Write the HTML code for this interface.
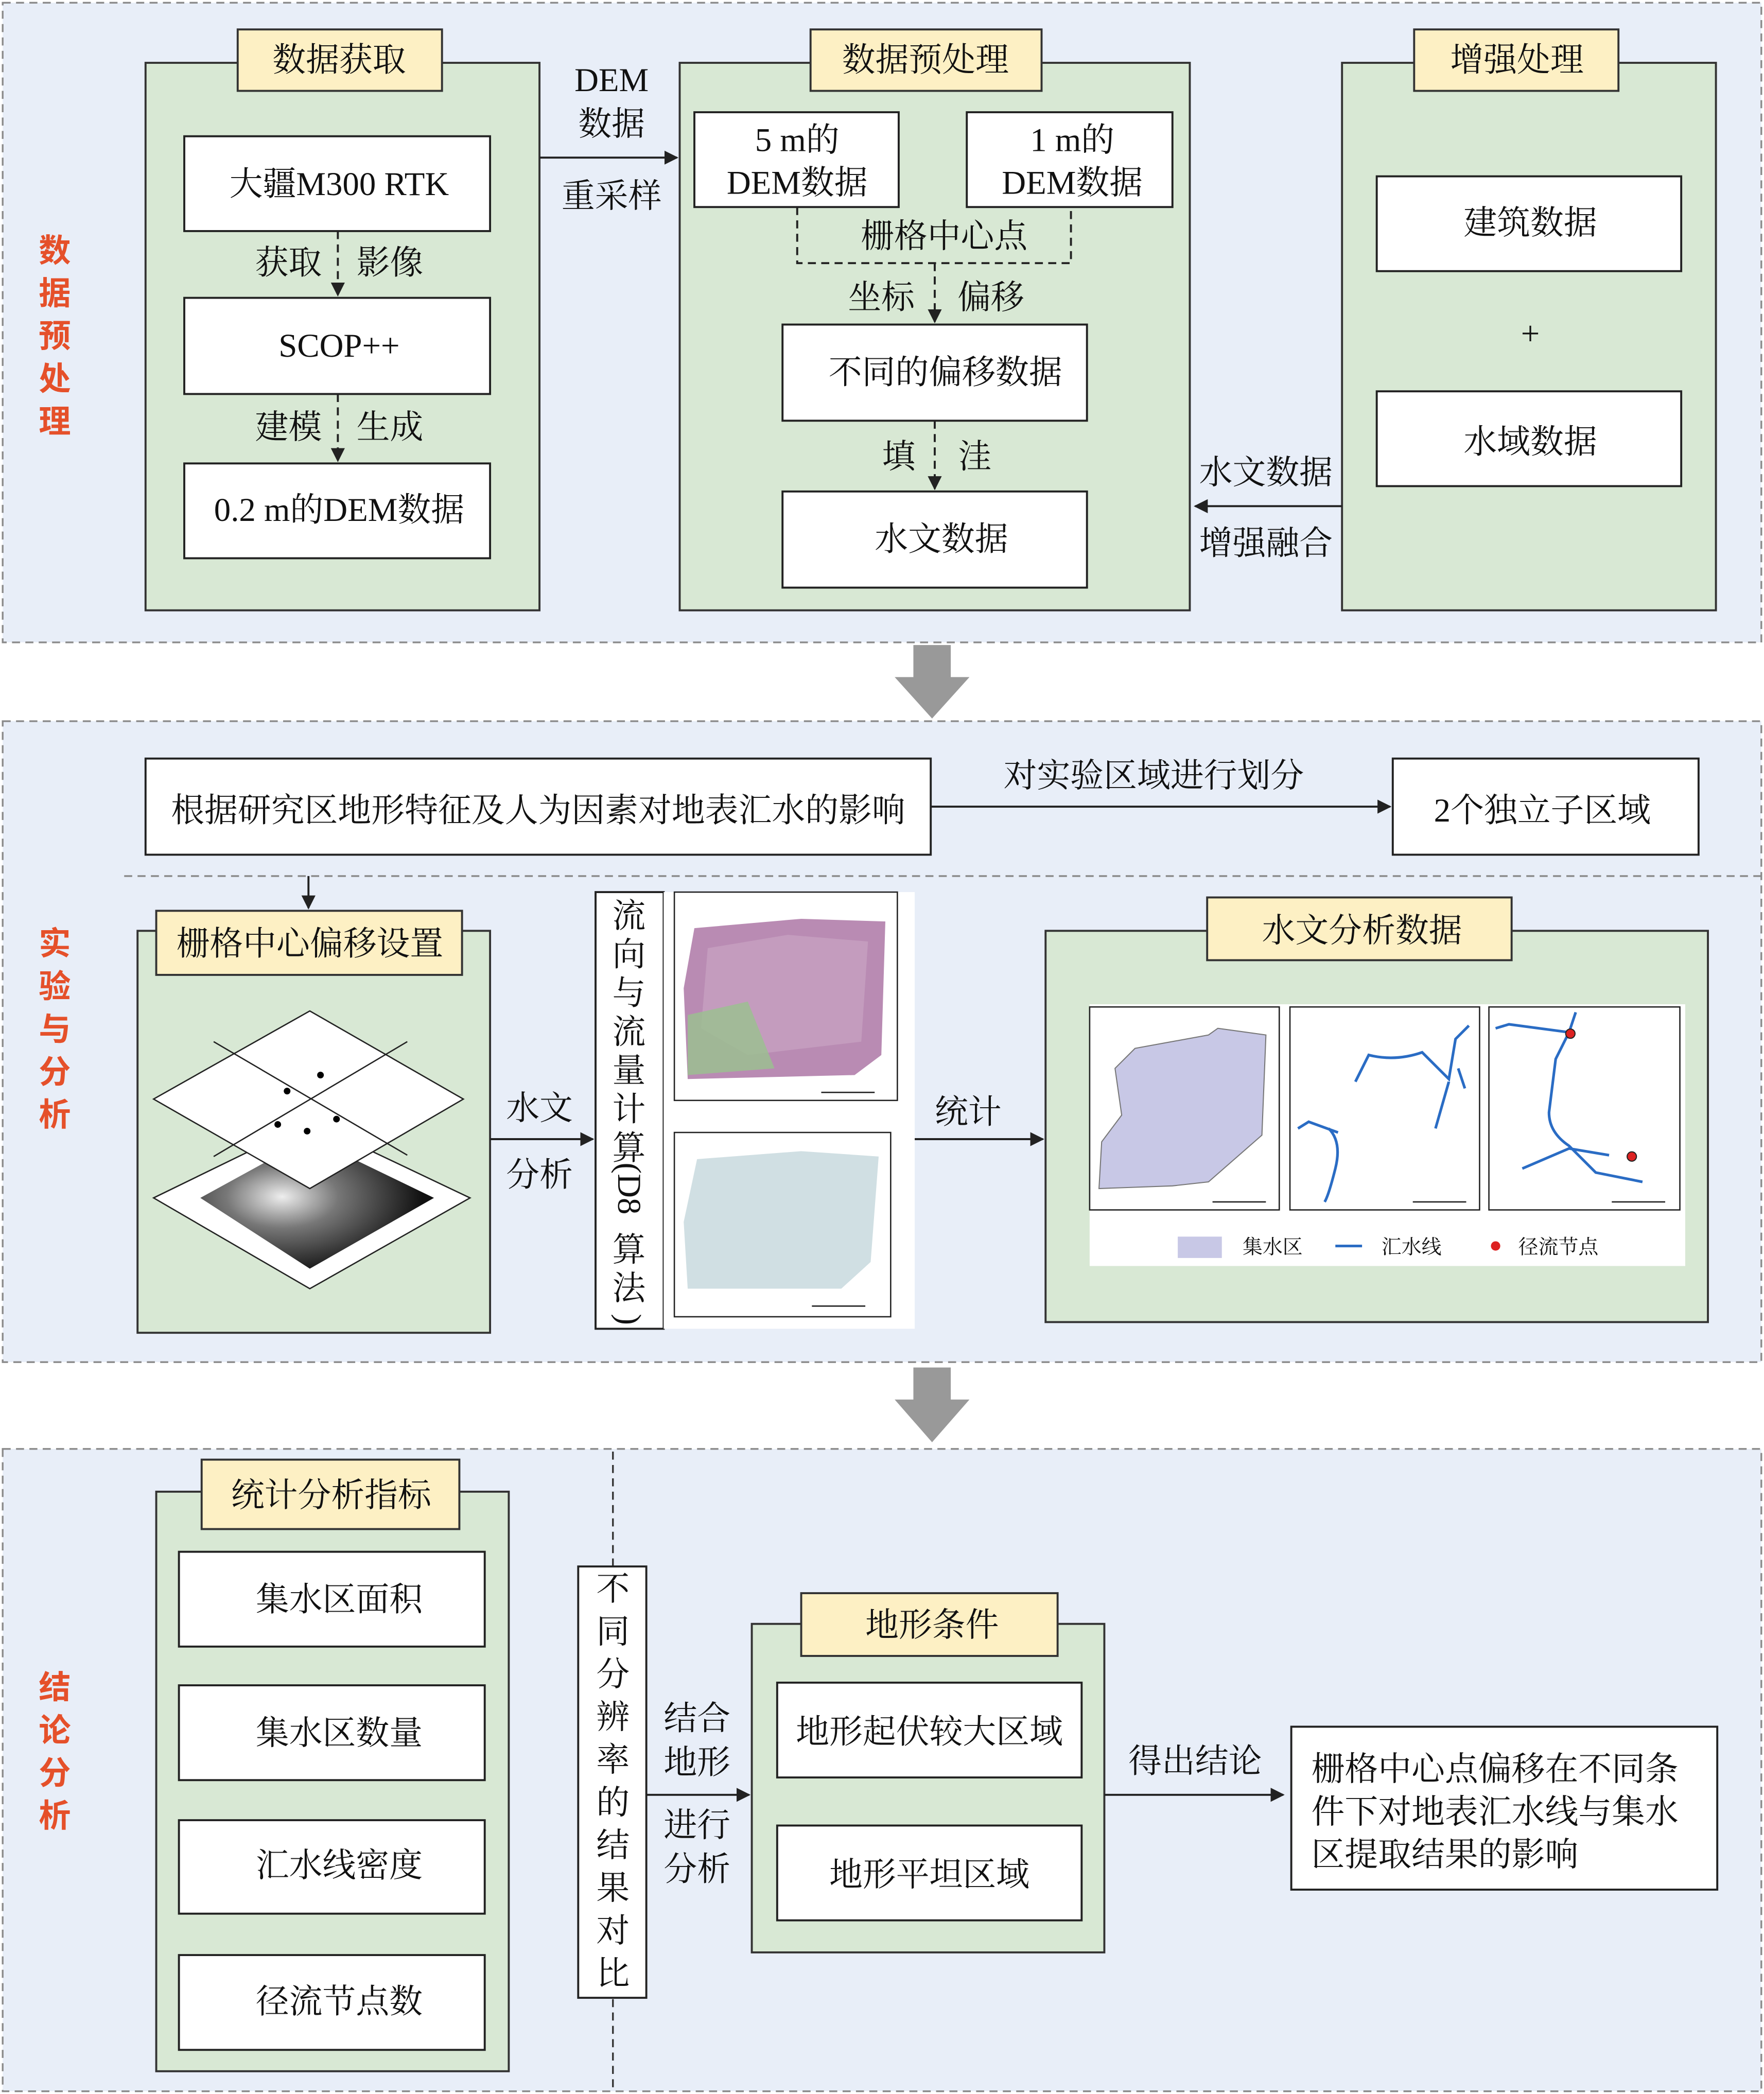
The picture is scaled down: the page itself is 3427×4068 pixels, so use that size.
<!DOCTYPE html>
<html><head><meta charset="utf-8">
<style>
html,body{margin:0;padding:0;background:#fff;}
svg{display:block;}
text{font-family:"Liberation Serif","Noto Serif CJK SC",serif;font-size:25px;fill:#111;}
.r{fill:#e5502a;font-weight:bold;font-size:24px;font-family:"Liberation Sans","Noto Sans CJK SC",sans-serif;}
.c{text-anchor:middle;dominant-baseline:central;}
.sec{fill:#e8eef8;stroke:#8a8a8a;stroke-width:1.3;stroke-dasharray:6 4;}
.g{fill:#d8e8d4;stroke:#333;stroke-width:1.5;}
.y{fill:#fdf0c4;stroke:#333;stroke-width:1.5;}
.w{fill:#fff;stroke:#222;stroke-width:1.5;}
.ln{stroke:#222;stroke-width:1.5;fill:none;}
.dl{stroke:#222;stroke-width:1.5;fill:none;stroke-dasharray:6 4;}
.sm{font-size:9px;font-family:"Liberation Sans","Noto Sans CJK SC",sans-serif;}
.lg{font-size:15px;}
</style></head><body>
<svg width="3427" height="4068" viewBox="0 0 1321 1568" xmlns="http://www.w3.org/2000/svg">
<defs>
<marker id="a" viewBox="0 0 10 10" refX="9" refY="5" markerWidth="7" markerHeight="7" orient="auto-start-reverse"><path d="M0,0 L10,5 L0,10 z" fill="#222"/></marker>
<radialGradient id="dem" cx="0.35" cy="0.45" r="0.6"><stop offset="0" stop-color="#eee"/><stop offset="0.4" stop-color="#777"/><stop offset="1" stop-color="#111"/></radialGradient>
</defs>
<rect width="1321" height="1568" fill="#fff"/>
<!-- sections -->
<rect class="sec" x="2" y="2" width="1317" height="479"/>
<rect class="sec" x="2" y="540" width="1317" height="480"/>
<rect class="sec" x="2" y="1085" width="1317" height="481"/>
<!-- gray arrows -->
<path d="M684,483 h28 v24 h14 l-28,31 l-28,-31 h14 z" fill="#999"/>
<path d="M684,1024 h28 v24 h14 l-28,32 l-28,-32 h14 z" fill="#999"/>
<!-- red labels -->
<g class="r">
<text x="41" y="188" class="c r">数</text><text x="41" y="220" class="c r">据</text><text x="41" y="252" class="c r">预</text><text x="41" y="284" class="c r">处</text><text x="41" y="316" class="c r">理</text>
<text x="41" y="707" class="c r">实</text><text x="41" y="739" class="c r">验</text><text x="41" y="771" class="c r">与</text><text x="41" y="803" class="c r">分</text><text x="41" y="835" class="c r">析</text>
<text x="41" y="1264" class="c r">结</text><text x="41" y="1296" class="c r">论</text><text x="41" y="1328" class="c r">分</text><text x="41" y="1360" class="c r">析</text>
</g>
<!-- Section 1 -->
<rect class="g" x="109" y="47" width="295" height="410"/>
<rect class="y" x="178" y="22" width="153" height="46"/><text x="254" y="45" class="c">数据获取</text>
<rect class="w" x="138" y="102" width="229" height="71"/><text x="254" y="138" class="c">大疆M300 RTK</text>
<rect class="w" x="138" y="223" width="229" height="72"/><text x="254" y="259" class="c">SCOP++</text>
<rect class="w" x="138" y="347" width="229" height="71"/><text x="254" y="382" class="c">0.2 m的DEM数据</text>
<line class="dl" x1="253" y1="173" x2="253" y2="221" marker-end="url(#a)"/>
<line class="dl" x1="253" y1="295" x2="253" y2="345" marker-end="url(#a)"/>
<text x="216" y="197" class="c">获取</text><text x="292" y="197" class="c">影像</text>
<text x="216" y="320" class="c">建模</text><text x="292" y="320" class="c">生成</text>
<text x="458" y="60" class="c">DEM</text><text x="458" y="93" class="c">数据</text>
<line class="ln" x1="404" y1="118" x2="507" y2="118" marker-end="url(#a)"/>
<text x="458" y="147" class="c">重采样</text>
<rect class="g" x="509" y="47" width="382" height="410"/>
<rect class="y" x="607" y="22" width="173" height="46"/><text x="693" y="45" class="c">数据预处理</text>
<rect class="w" x="520" y="84" width="153" height="71"/><text x="597" y="105" class="c">5 m的</text><text x="597" y="137" class="c">DEM数据</text>
<rect class="w" x="724" y="84" width="154" height="71"/><text x="803" y="105" class="c">1 m的</text><text x="803" y="137" class="c">DEM数据</text>
<path class="dl" d="M597,155 V197 H802 V155"/>
<text x="707" y="177" class="c">栅格中心点</text>
<line class="dl" x1="700" y1="197" x2="700" y2="241" marker-end="url(#a)"/>
<text x="660" y="223" class="c">坐标</text><text x="742" y="223" class="c">偏移</text>
<rect class="w" x="586" y="243" width="228" height="72"/><text x="708" y="279" class="c">不同的偏移数据</text>
<line class="dl" x1="700" y1="315" x2="700" y2="366" marker-end="url(#a)"/>
<text x="673" y="342" class="c">填</text><text x="730" y="342" class="c">洼</text>
<rect class="w" x="586" y="368" width="228" height="72"/><text x="705" y="404" class="c">水文数据</text>
<rect class="g" x="1005" y="47" width="280" height="410"/>
<rect class="y" x="1059" y="22" width="153" height="46"/><text x="1136" y="45" class="c">增强处理</text>
<rect class="w" x="1031" y="132" width="228" height="71"/><text x="1146" y="167" class="c">建筑数据</text>
<text x="1146" y="250" class="c">+</text>
<rect class="w" x="1031" y="293" width="228" height="71"/><text x="1146" y="331" class="c">水域数据</text>
<line class="ln" x1="1005" y1="379" x2="895" y2="379" marker-end="url(#a)"/>
<text x="948" y="354" class="c">水文数据</text><text x="948" y="407" class="c">增强融合</text>
<!-- Section 2 -->
<rect class="w" x="109" y="568" width="588" height="72"/><text x="403" y="607" class="c">根据研究区地形特征及人为因素对地表汇水的影响</text>
<line class="ln" x1="697" y1="604" x2="1041" y2="604" marker-end="url(#a)"/>
<text x="864" y="581" class="c">对实验区域进行划分</text>
<rect class="w" x="1043" y="568" width="229" height="72"/><text x="1155" y="607" class="c">2个独立子区域</text>
<line x1="93" y1="656" x2="1319" y2="656" stroke="#888" stroke-width="1.3" stroke-dasharray="6 4"/>
<line class="ln" x1="231" y1="656" x2="231" y2="680" marker-end="url(#a)"/>
<rect class="g" x="103" y="697" width="264" height="301"/>
<rect class="y" x="117" y="682" width="229" height="48"/><text x="232" y="707" class="c">栅格中心偏移设置</text>
<polygon points="232,840 352,897 232,965 115,897" fill="#fff" stroke="#222"/>
<polygon points="232,852 325,897 232,950 150,897" fill="url(#dem)"/>
<polygon points="232,757 347,823 232,890 115,823" fill="#fff" stroke="#222"/>
<line x1="160" y1="780" x2="305" y2="865" stroke="#222"/><line x1="160" y1="866" x2="305" y2="780" stroke="#222"/>
<circle cx="240" cy="805" r="2.5"/><circle cx="215" cy="817" r="2.5"/><circle cx="252" cy="838" r="2.5"/><circle cx="230" cy="847" r="2.5"/><circle cx="208" cy="842" r="2.5"/>
<text x="404" y="830" class="c">水文</text><text x="404" y="880" class="c">分析</text>
<line class="ln" x1="367" y1="853" x2="444" y2="853" marker-end="url(#a)"/>
<rect class="w" x="446" y="668" width="51" height="327"/>
<g>
<text x="471" y="686" class="c">流</text><text x="471" y="715" class="c">向</text><text x="471" y="744" class="c">与</text><text x="471" y="773" class="c">流</text><text x="471" y="802" class="c">量</text><text x="471" y="831" class="c">计</text><text x="471" y="860" class="c">算</text><text x="471" y="890" class="c" transform="rotate(90 471 890)">(D8</text><text x="471" y="936" class="c">算</text><text x="471" y="965" class="c">法</text><text x="471" y="988" class="c" transform="rotate(90 471 988)">)</text>
</g>
<rect x="497" y="668" width="188" height="327" fill="#fff"/>
<rect x="505" y="668" width="167" height="156" fill="#fff" stroke="#222"/>
<polygon points="520,695 600,688 663,690 660,790 640,805 515,808 512,740" fill="#b98bb3"/>
<polygon points="530,710 590,700 650,705 645,780 560,790 525,770" fill="#c7a0c0" opacity="0.8"/>
<polygon points="515,760 560,750 580,800 515,805" fill="#9ac28f" opacity="0.8"/>
<line x1="615" y1="818" x2="655" y2="818" stroke="#222"/>
<rect x="505" y="848" width="162" height="138" fill="#fff" stroke="#222"/>
<polygon points="522,868 600,862 658,866 652,945 630,965 515,965 512,915" fill="#d0dfe3"/>
<line x1="608" y1="978" x2="648" y2="978" stroke="#222"/>
<text x="725" y="833" class="c">统计</text>
<line class="ln" x1="685" y1="853" x2="781" y2="853" marker-end="url(#a)"/>
<rect class="g" x="783" y="697" width="496" height="293"/>
<rect class="y" x="904" y="672" width="228" height="47"/><text x="1020" y="697" class="c">水文分析数据</text>
<rect x="816" y="752" width="446" height="196" fill="#fff"/>
<rect x="816" y="754" width="142" height="152" fill="#fff" stroke="#222"/>
<rect x="966" y="754" width="142" height="152" fill="#fff" stroke="#222"/>
<rect x="1115" y="754" width="143" height="152" fill="#fff" stroke="#222"/>
<polygon points="850,785 905,775 912,770 948,775 945,850 905,885 878,888 823,890 825,855 840,835 835,800" fill="#c8c8e6" stroke="#777" stroke-width="0.8"/>
<path d="M995,845 q10,10 5,30 q-5,20 -8,25 M1015,810 l10,-20 q20,5 40,-2 l20,20 l5,-30 l10,-10 M1085,810 l-10,35 M1092,800 l5,15" stroke="#2a6cc4" stroke-width="2" fill="none"/>
<path d="M972,845 l8,-5 l22,8" stroke="#2a6cc4" stroke-width="2" fill="none"/>
<path d="M1120,770 l10,-3 l45,6 l-10,20 l-5,40 q0,15 15,25 l20,20 l25,5 l10,2 M1140,875 l35,-15 l30,5 M1175,773 l5,-15" stroke="#2a6cc4" stroke-width="2" fill="none"/>
<circle cx="1176" cy="774" r="3.5" fill="#d22" stroke="#222" stroke-width="0.8"/><circle cx="1222" cy="866" r="3.5" fill="#d22" stroke="#222" stroke-width="0.8"/>
<line x1="908" y1="900" x2="948" y2="900" stroke="#222"/><line x1="1058" y1="900" x2="1098" y2="900" stroke="#222"/><line x1="1207" y1="900" x2="1247" y2="900" stroke="#222"/>
<rect x="882" y="926" width="33" height="16" fill="#c8c8e6"/><text x="953" y="934" class="c lg">集水区</text>
<line x1="1000" y1="933" x2="1020" y2="933" stroke="#2a6cc4" stroke-width="2"/><text x="1057" y="934" class="c lg">汇水线</text>
<circle cx="1120" cy="933" r="3.5" fill="#d22"/><text x="1167" y="934" class="c lg">径流节点</text>
<!-- Section 3 -->
<line x1="459" y1="1087" x2="459" y2="1566" stroke="#333" stroke-width="1.3" stroke-dasharray="6 4"/>
<rect class="g" x="117" y="1117" width="264" height="434"/>
<rect class="y" x="151" y="1093" width="193" height="52"/><text x="248" y="1120" class="c">统计分析指标</text>
<rect class="w" x="134" y="1162" width="229" height="71"/><text x="254" y="1198" class="c">集水区面积</text>
<rect class="w" x="134" y="1262" width="229" height="71"/><text x="254" y="1298" class="c">集水区数量</text>
<rect class="w" x="134" y="1363" width="229" height="70"/><text x="254" y="1397" class="c">汇水线密度</text>
<rect class="w" x="134" y="1464" width="229" height="71"/><text x="254" y="1499" class="c">径流节点数</text>
<rect class="w" x="433" y="1173" width="51" height="323"/>
<text x="459" y="1190" class="c">不</text><text x="459" y="1222" class="c">同</text><text x="459" y="1254" class="c">分</text><text x="459" y="1286" class="c">辨</text><text x="459" y="1318" class="c">率</text><text x="459" y="1350" class="c">的</text><text x="459" y="1382" class="c">结</text><text x="459" y="1414" class="c">果</text><text x="459" y="1446" class="c">对</text><text x="459" y="1478" class="c">比</text>
<text x="522" y="1287" class="c">结合</text><text x="522" y="1320" class="c">地形</text><text x="522" y="1367" class="c">进行</text><text x="522" y="1400" class="c">分析</text>
<line class="ln" x1="484" y1="1344" x2="561" y2="1344" marker-end="url(#a)"/>
<rect class="g" x="563" y="1216" width="264" height="246"/>
<rect class="y" x="600" y="1193" width="192" height="47"/><text x="698" y="1217" class="c">地形条件</text>
<rect class="w" x="582" y="1260" width="228" height="71"/><text x="696" y="1297" class="c">地形起伏较大区域</text>
<rect class="w" x="582" y="1367" width="228" height="71"/><text x="696" y="1404" class="c">地形平坦区域</text>
<line class="ln" x1="827" y1="1344" x2="961" y2="1344" marker-end="url(#a)"/>
<text x="895" y="1319" class="c">得出结论</text>
<rect class="w" x="967" y="1293" width="319" height="122"/>
<text x="982" y="1325" dominant-baseline="central">栅格中心点偏移在不同条</text>
<text x="982" y="1357" dominant-baseline="central">件下对地表汇水线与集水</text>
<text x="982" y="1389" dominant-baseline="central">区提取结果的影响</text>
</svg>
</body></html>
